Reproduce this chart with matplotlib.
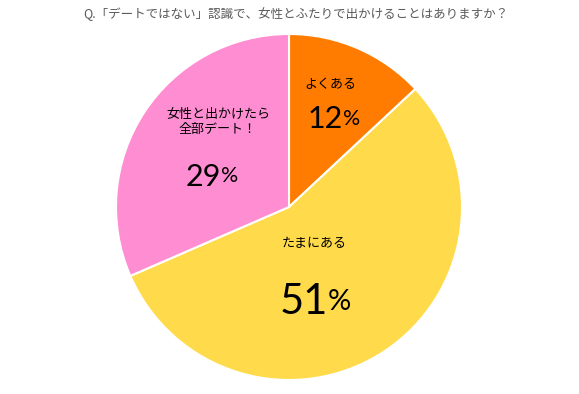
import matplotlib
matplotlib.use("Agg")
import matplotlib.pyplot as plt

plt.rcParams['font.family'] = ['Noto Sans CJK JP', 'DejaVu Sans']

title = "Q.「デートではない」認識で、女性とふたりで出かけることはありますか？"
categories = ["よくある", "たまにある", "女性と出かけたら\n全部デート！"]
values = [12, 51, 29]
colors = ["#FF7C00", "#FFDB4B", "#FF8DD2"]

W, H = 579, 394
fig = plt.figure(figsize=(W / 100, H / 100), dpi=100)
cx, cy, r = 289, 207, 173
ax = fig.add_axes([(cx - r) / W, (H - cy - r) / H, 2 * r / W, 2 * r / H])
wedges, _ = ax.pie(values, colors=colors, startangle=90, counterclock=False,
                   wedgeprops=dict(edgecolor="white", linewidth=1.5), radius=1)
ax.set_xlim(-1, 1)
ax.set_ylim(-1, 1)
ax.set_aspect('equal')
ax.axis('off')

def px(x, y):
    return ((x - cx) / r, (cy - y) / r)

# label positions (pixel) and number sizes
label_pos = [(330, 85), (314, 244), (218, 122)]
num_pos = [(343, 117), (328, 299), (221, 174)]
num_size = [22, 30, 22]
for cat, v, lp, npos, ns in zip(categories, values, label_pos, num_pos, num_size):
    x, y = px(*lp)
    ax.text(x, y, cat, ha='center', va='center', fontsize=9.4, color='black', linespacing=1.25)
    x, y = px(*npos)
    ax.text(x, y, str(v), ha='right', va='center_baseline', fontsize=ns, color='black',
            family=['Lato', 'DejaVu Sans'])
    ax.text(x, y, "%", ha='left', va='center_baseline', fontsize=ns * 0.7, color='black',
            family=['Lato', 'DejaVu Sans'])

fig.text(296 / W, 1 - 14 / H, title, ha='center', va='center', fontsize=9, color='#595959')

fig.savefig("out.png", dpi=100)
